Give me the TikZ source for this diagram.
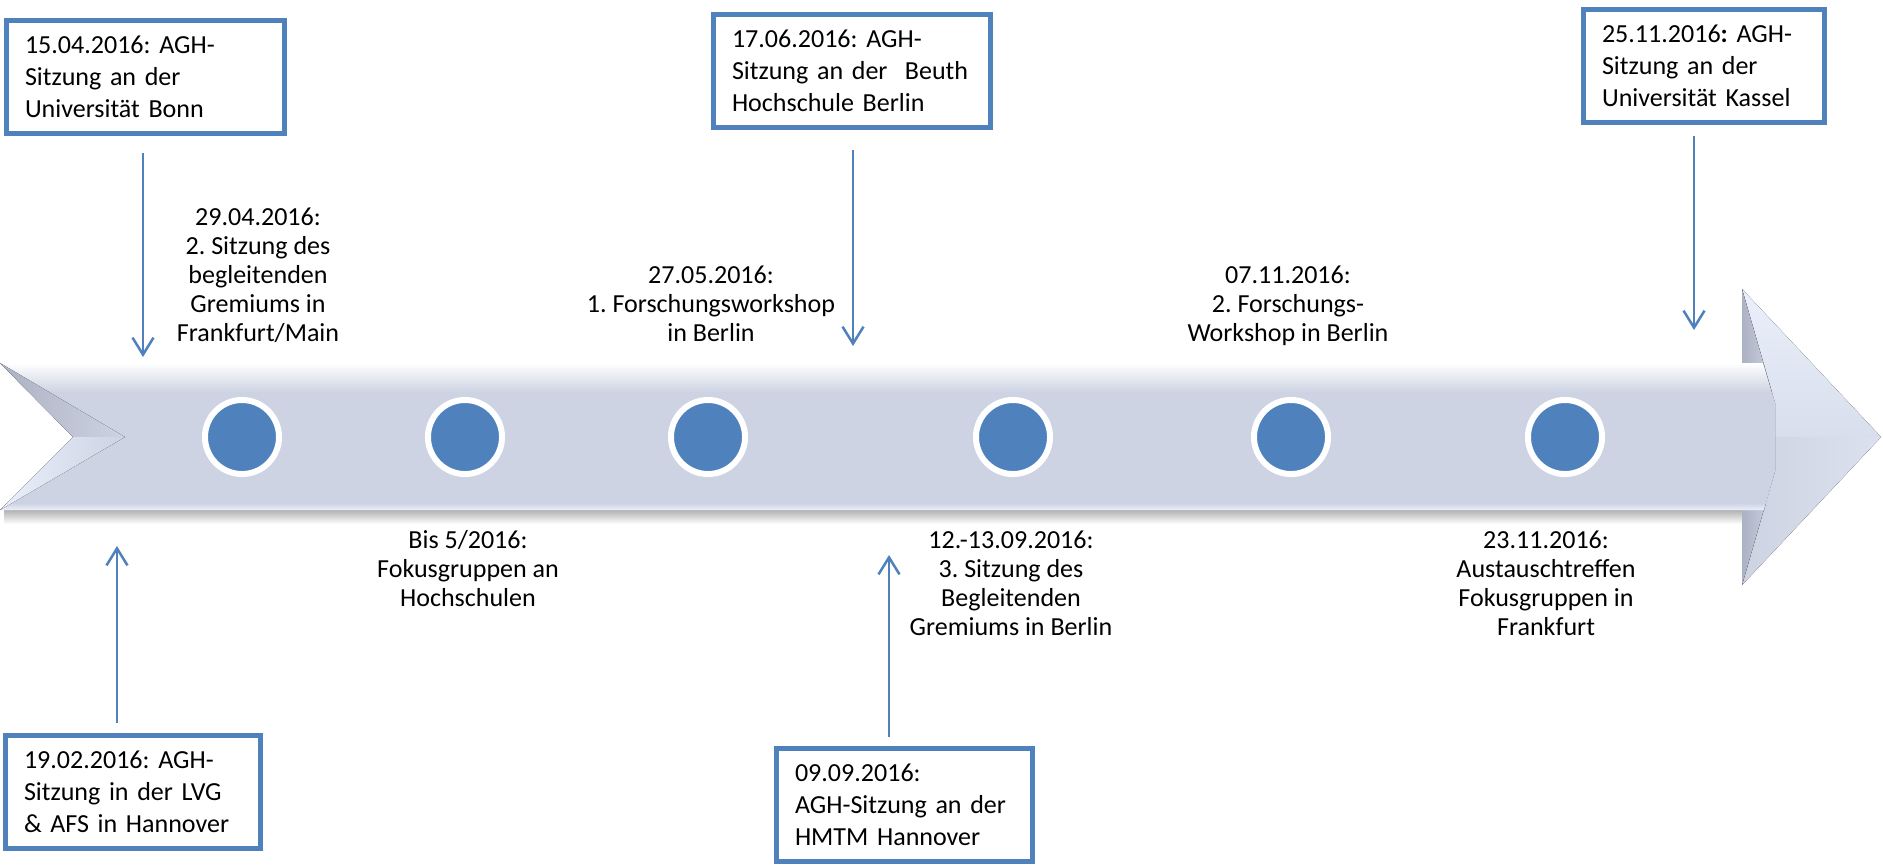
\documentclass[tikz,border=0pt]{standalone}
\usepackage{fontspec}
\setmainfont{Carlito}
\usetikzlibrary{arrows.meta}
\frenchspacing

\definecolor{amtblau}{HTML}{4F81BD}
\definecolor{zeitband}{HTML}{CDD3E2}
\definecolor{zeitlicht}{HTML}{EAEFFB}
\definecolor{zeitdunkel}{HTML}{ACB2C3}

\begin{document}
\begin{tikzpicture}[x=0.01cm,y=-0.01cm]
      \tikzstyle{kasten}=[draw=amtblau, line width=0.05cm, fill=white, anchor=north west, minimum height=1.13cm, inner xsep=0.185cm, inner ysep=0, align=left, font=\fontsize{7.4}{9.1}\selectfont]
      \tikzstyle{punkt}=[circle, draw=white, line width=0.06cm, fill=amtblau, minimum size=0.74cm, inner sep=0]
      \tikzstyle{termin}=[anchor=north, inner sep=0, align=center, font=\fontsize{7.4}{8.25}\selectfont]
      \tikzstyle{pfeil}=[-{Straight Barb[length=0.17cm,width=0.21cm]}, draw=amtblau, line width=0.025cm]

      \useasboundingbox (0,0) rectangle (1883,866);

      % Zeitstrahl
      \fill[top color=black!35, bottom color=white] (4,508) rectangle (1742,524);
      \fill[zeitband] (1742,289) -- (1881,437) -- (1742,585) -- cycle;
      \fill[top color=zeitlicht, bottom color=zeitlicht!40!zeitband] (1742,289) -- (1881,437) -- (1775,437) -- (1775,403) -- cycle;
      \fill[left color=zeitband, right color=zeitlicht!50!zeitband] (1775,437) -- (1881,437) -- (1742,585) -- (1775,471) -- cycle;
      \fill[left color=zeitdunkel, right color=zeitband] (1742,289) -- (1775,403) -- (1775,471) -- (1742,585) -- cycle;
      \fill[zeitband] (0,363) -- (1763,363) -- (1775,403) -- (1775,471) -- (1764,510) -- (0,510) -- (73,437) -- cycle;
      \begin{scope}
        \clip (0,363) -- (1763,363) -- (1775,403) -- (1775,471) -- (1764,510) -- (0,510) -- (73,437) -- cycle;
        \fill[top color=white, middle color=zeitlicht, bottom color=zeitband] (0,363) rectangle (1780,392);
        \fill[top color=zeitband, bottom color=zeitlicht] (0,503) rectangle (1780,510);
      \end{scope}
      \fill[left color=zeitdunkel, right color=zeitband] (0,363) -- (73,437) -- (125,437) -- cycle;
      \fill[left color=zeitlicht, right color=zeitband] (0,510) -- (73,437) -- (125,437) -- cycle;

      \node[punkt] (p1) at (242,437) {};
      \node[punkt] (p2) at (465,437) {};
      \node[punkt] (p3) at (708,437) {};
      \node[punkt] (p4) at (1013,437) {};
      \node[punkt] (p5) at (1291,437) {};
      \node[punkt] (p6) at (1565,437) {};

      % Sitzungen
      \node[kasten, minimum width=2.78cm, text width=2.41cm] (Bonn) at (4,18) {15.04.2016: AGH-\\Sitzung an der\\Universität Bonn};
      \node[kasten, minimum width=2.77cm, text width=2.40cm] (Beuth) at (711,12) {17.06.2016: AGH-\\Sitzung an der\ \ Beuth\\Hochschule Berlin};
      \node[kasten, minimum width=2.41cm, text width=2.04cm] (Kassel) at (1581,7) {25.11.2016\textbf{:} AGH-\\Sitzung an der\\Universität Kassel};
      \node[kasten, minimum width=2.55cm, text width=2.18cm] (LVG) at (3,733) {19.02.2016: AGH-\\Sitzung in der LVG\\\& AFS in Hannover};
      \node[kasten, minimum width=2.56cm, text width=2.19cm] (HMTM) at (774,746) {09.09.2016:\\AGH-Sitzung an der\\HMTM Hannover};

      \node[termin] (Frankfurt) at (258,207) {29.04.2016:\\2. Sitzung des\\begleitenden\\Gremiums in\\Frankfurt/Main};
      \node[termin] (Workshop1) at (711,265) {27.05.2016:\\1. Forschungsworkshop\\in Berlin};
      \node[termin] (Workshop2) at (1288,265) {07.11.2016:\\2. Forschungs-\\Workshop in Berlin};
      \node[termin] (Fokus) at (468,530) {Bis 5/2016:\\Fokusgruppen an\\Hochschulen};
      \node[termin] (Gremium) at (1011,530) {12.-13.09.2016:\\3. Sitzung des\\Begleitenden\\Gremiums in Berlin};
      \node[termin] (Austausch) at (1546,530) {23.11.2016:\\Austauschtreffen\\Fokusgruppen in\\Frankfurt};

      \coordinate (zBonn) at (143,357);
      \coordinate (zBeuth) at (853,346);
      \coordinate (zKassel) at (1694,330);
      \coordinate (zLVG) at (117,546);
      \coordinate (zHMTM) at (889,555);
      \draw[pfeil, shorten <=0.17cm] (Bonn.south -| zBonn) -- (zBonn);
      \draw[pfeil, shorten <=0.2cm] (Beuth.south -| zBeuth) -- (zBeuth);
      \draw[pfeil, shorten <=0.11cm] (Kassel.south -| zKassel) -- (zKassel);
      \draw[pfeil, shorten <=0.1cm] (LVG.north -| zLVG) -- (zLVG);
      \draw[pfeil, shorten <=0.09cm] (HMTM.north -| zHMTM) -- (zHMTM);

    \end{tikzpicture}
\end{document}
